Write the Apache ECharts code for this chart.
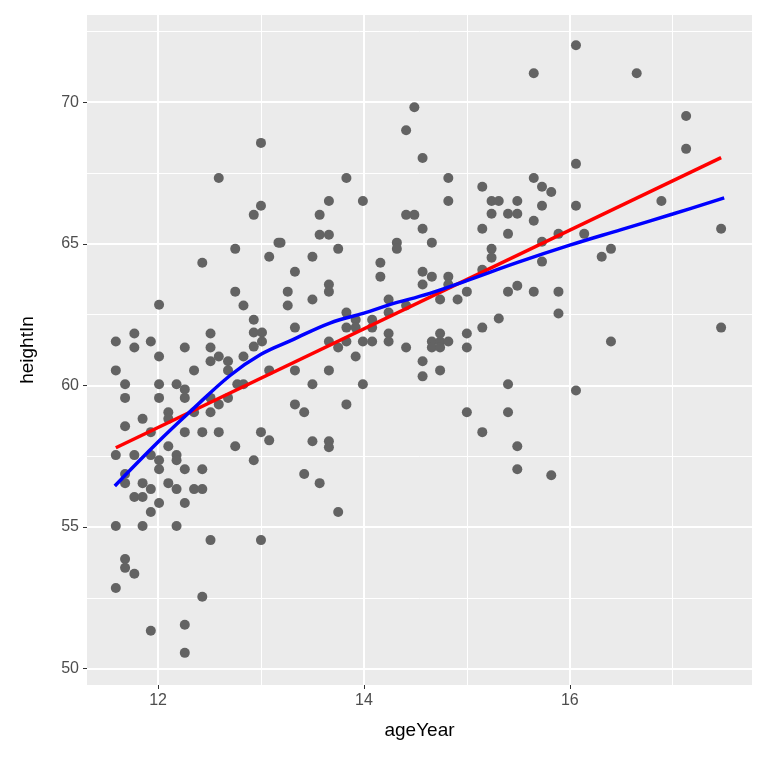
<!DOCTYPE html>
<html>
<head>
<meta charset="utf-8">
<script src="https://cdn.jsdelivr.net/npm/echarts@6/dist/echarts.min.js"></script>
<style>html,body{margin:0;padding:0;background:#fff}#chart{width:768px;height:768px}</style>
</head>
<body>
<div id="chart"></div>
<script>
// points: [ageYear, heightIn]
const points = [
  [11.59,61.55],[11.77,61.83],[11.77,61.34],[11.93,61.55],[12.01,62.85],[12.01,61.02],[12.43,64.33],[12.75,64.82],[13.17,65.04],[13.08,64.54],
  [12.75,63.31],[12.83,62.82],[12.93,62.32],[12.93,61.87],[13.01,61.87],[13.01,61.55],[12.93,61.37],[12.51,61.83],[12.51,61.34],[12.26,61.34],
  [12.59,61.02],[12.68,60.85],[12.51,60.85],[12.68,60.53],[12.83,61.02],[13.08,60.53],[12.35,60.53],[11.59,60.53],[11.68,60.04],[11.68,59.56],
  [12.01,60.04],[12.01,59.56],[12.18,60.04],[12.26,59.86],[12.26,59.56],[12.51,59.56],[12.59,59.33],[12.68,59.56],[12.77,60.04],[12.83,60.04],
  [12.10,59.05],[12.10,58.82],[12.35,59.05],[12.51,59.05],[11.85,58.82],[11.68,58.56],[11.93,58.35],[12.26,58.35],[12.43,58.35],[12.59,58.35],
  [13.00,58.35],[13.08,58.06],[12.75,57.85],[12.10,57.85],[11.59,57.54],[11.77,57.54],[11.93,57.54],[12.01,57.36],[12.18,57.54],[12.18,57.36],
  [12.01,57.04],[12.26,57.04],[12.43,57.04],[12.93,57.36],[11.68,56.87],[11.68,56.55],[11.85,56.55],[11.93,56.34],[12.10,56.55],[12.18,56.34],
  [12.35,56.34],[12.43,56.34],[11.77,56.06],[11.85,56.06],[12.01,55.85],[12.26,55.85],[11.93,55.53],[11.59,55.04],[11.85,55.04],[12.18,55.04],
  [12.51,54.54],[13.00,54.54],[11.68,53.87],[11.68,53.56],[11.77,53.35],[11.59,52.85],[12.43,52.54],[11.93,51.34],[12.26,51.55],[12.26,50.56],
  [13.00,68.56],[12.59,67.32],[12.93,66.02],[13.00,66.34],
  [14.49,69.82],[14.41,69.01],[14.57,68.03],[13.83,67.32],[14.82,67.32],[14.82,66.51],[13.66,66.51],[13.99,66.51],[13.57,66.02],[14.41,66.02],
  [14.49,66.02],[13.57,65.32],[13.66,65.32],[14.57,65.53],[13.19,65.04],[13.75,64.82],[14.66,65.04],[14.32,65.04],[14.32,64.82],[13.50,64.54],
  [13.33,64.01],[14.16,64.33],[14.16,63.84],[14.57,64.01],[14.66,63.84],[14.82,63.84],[14.57,63.56],[14.82,63.56],[13.26,63.31],[13.26,62.82],
  [13.66,63.56],[13.66,63.31],[13.50,63.03],[14.24,63.03],[14.74,63.03],[14.91,63.03],[15.00,63.31],[13.83,62.57],[14.24,62.57],[14.41,62.82],
  [13.92,62.32],[14.08,62.32],[13.83,62.04],[13.92,62.04],[14.08,62.04],[13.33,62.04],[13.66,61.55],[13.75,61.34],[13.83,61.55],[13.99,61.55],
  [14.08,61.55],[14.24,61.83],[14.24,61.55],[13.92,61.02],[14.41,61.34],[14.74,61.83],[14.66,61.55],[14.74,61.55],[14.82,61.55],[14.66,61.34],
  [14.74,61.34],[15.00,61.83],[15.00,61.34],[13.33,60.53],[13.66,60.53],[14.57,60.85],[14.57,60.32],[14.74,60.53],[13.50,60.04],[13.99,60.04],
  [13.33,59.33],[13.42,59.05],[13.83,59.33],[15.00,59.05],[13.50,58.03],[13.66,58.03],[13.66,57.82],[13.42,56.87],[13.57,56.55],[13.75,55.53],
  [16.06,72.01],[15.65,71.02],[16.65,71.02],[17.13,69.51],[17.13,68.35],[16.06,67.82],[15.15,67.01],[15.65,67.32],[15.73,67.01],[15.82,66.83],
  [15.24,66.51],[15.31,66.51],[15.49,66.51],[15.24,66.06],[15.40,66.06],[15.49,66.06],[15.73,66.34],[15.65,65.81],[16.06,66.34],[15.15,65.53],
  [15.40,65.35],[15.89,65.35],[16.14,65.35],[16.89,66.51],[17.47,65.53],[15.73,65.07],[15.24,64.82],[15.24,64.51],[15.15,64.08],[15.73,64.37],
  [16.31,64.54],[16.40,64.82],[15.40,63.31],[15.49,63.52],[15.65,63.31],[15.89,63.31],[15.89,62.54],[15.15,62.04],[15.31,62.36],[16.40,61.55],
  [17.47,62.04],[15.40,60.04],[16.06,59.82],[15.40,59.05],[15.15,58.35],[15.49,57.85],[15.49,57.04],[15.82,56.83]
];

// loess curve
const loessX = [11.58, 12.0, 12.32, 12.7, 13.0, 13.3, 13.67, 14.0, 14.25, 14.64, 15.0, 15.5, 16.0, 16.5, 17.0, 17.5];
const loessY = [56.45, 58.0, 59.1, 60.35, 61.1, 61.6, 62.2, 62.55, 62.85, 63.25, 63.7, 64.35, 64.95, 65.5, 66.05, 66.62];

const xMajor = [12, 14, 16];
const xMinor = [11, 13, 15, 17];
const yMajor = [50, 55, 60, 65, 70];
const yMinor = [52.5, 57.5, 62.5, 67.5, 72.5];

// linear fit (geom_smooth method = lm)
const n = points.length;
const mx = points.reduce((s, p) => s + p[0], 0) / n;
const my = points.reduce((s, p) => s + p[1], 0) / n;
let sxy = 0, sxx = 0;
points.forEach(p => { sxy += (p[0] - mx) * (p[1] - my); sxx += (p[0] - mx) ** 2; });
const slope = sxy / sxx;
const xs = points.map(p => p[0]);
const x0 = Math.min(...xs), x1 = Math.max(...xs);
const lmLine = [[x0, my + slope * (x0 - mx)], [x1, my + slope * (x1 - mx)]];

const gridLines = (vals, axis, w) => vals.map(v => ({ [axis]: v, lineStyle: { color: '#fff', width: w, type: 'solid' } }));

const chart = echarts.init(document.getElementById('chart'));
chart.setOption({
  animation: false,
  textStyle: { fontFamily: 'Liberation Sans, Arial, sans-serif' },
  grid: { left: 87, right: 16, top: 15, bottom: 83, show: true, backgroundColor: '#EBEBEB', borderWidth: 0 },
  xAxis: {
    type: 'value', min: 11.31, max: 17.77,
    name: 'ageYear', nameLocation: 'middle', nameGap: 36,
    nameTextStyle: { color: '#000', fontSize: 19 },
    axisLine: { show: false },
    splitLine: { show: false },
    axisTick: { show: true, customValues: xMajor, length: 4, lineStyle: { color: '#333', width: 1 } },
    axisLabel: { customValues: xMajor, color: '#4D4D4D', fontSize: 16, margin: 8 }
  },
  yAxis: {
    type: 'value', min: 49.425, max: 73.075,
    name: 'heightIn', nameLocation: 'middle', nameGap: 50, nameRotate: 90,
    nameTextStyle: { color: '#000', fontSize: 19 },
    axisLine: { show: false },
    splitLine: { show: false },
    axisTick: { show: true, customValues: yMajor, length: 4, lineStyle: { color: '#333', width: 1 } },
    axisLabel: { customValues: yMajor, color: '#4D4D4D', fontSize: 16, margin: 8 }
  },
  series: [
    {
      type: 'line', data: [], silent: true, z: 0, zlevel: 0,
      markLine: {
        silent: true, symbol: 'none', label: { show: false }, animation: false, z: 0,
        data: [
          ...gridLines(xMinor, 'xAxis', 1), ...gridLines(yMinor, 'yAxis', 1),
          ...gridLines(xMajor, 'xAxis', 2), ...gridLines(yMajor, 'yAxis', 2)
        ]
      }
    },
    {
      type: 'scatter', data: points, symbolSize: 10, z: 5,
      itemStyle: { color: '#636363', opacity: 1 }
    },
    {
      type: 'line', data: lmLine, showSymbol: false, symbol: 'none',
      lineStyle: { color: '#FF0000', width: 3.5 }, z: 6
    },
    {
      type: 'line', data: loessX.map((x, i) => [x, loessY[i]]), smooth: 0.4, showSymbol: false, symbol: 'none',
      lineStyle: { color: '#0000FF', width: 3.5 }, z: 7
    }
  ]
});
</script>
</body>
</html>
